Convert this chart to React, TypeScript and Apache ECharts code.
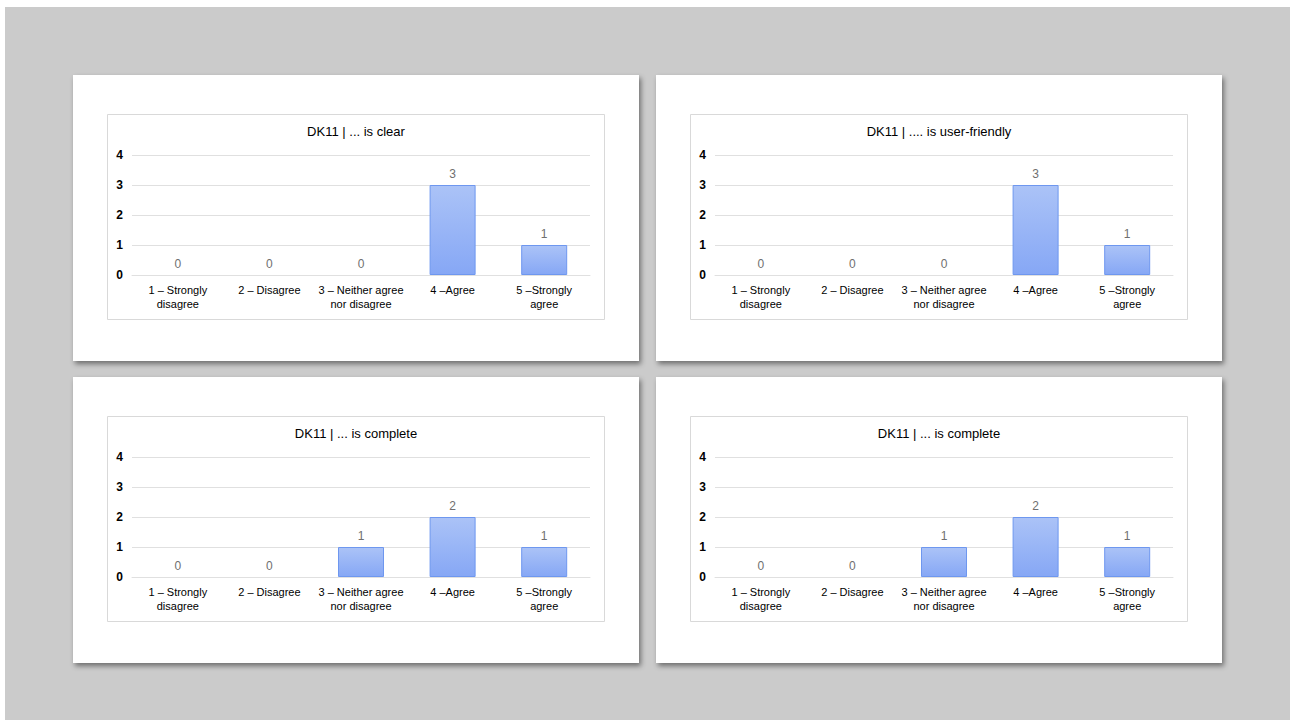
import React, { useEffect, useRef } from "react";
import * as echarts from "echarts";

// Likert scale answer categories shared by every panel
const categories = [
  "1 – Strongly\ndisagree",
  "2 – Disagree",
  "3 – Neither agree\nnor disagree",
  "4 –Agree",
  "5 –Strongly\nagree",
];

// Response counts per panel
const clearCounts = [0, 0, 0, 3, 1];
const userFriendlyCounts = [0, 0, 0, 3, 1];
const completeCounts = [0, 0, 1, 2, 1];
const completeCountsB = [0, 0, 1, 2, 1];

const panelTitles = [
  "DK11 | ... is clear",
  "DK11 | .... is user-friendly",
  "DK11 | ... is complete",
  "DK11 | ... is complete",
];

const yTicks = [0, 1, 2, 3, 4];

const FONT = "'Liberation Sans', Arial, Helvetica, sans-serif";

const CARD_W = 566;
const CARD_H = 286;

function Card({ title, values, left, top }: { title: string; values: number[]; left: number; top: number }) {
  const ref = useRef<HTMLDivElement>(null);

  useEffect(() => {
    if (!ref.current) return;
    const chart = echarts.init(ref.current, null, { renderer: "svg" });
    // zero-count bars get no outline so nothing shows on the baseline
    const barData = values.map((v) => (v === 0 ? { value: v, itemStyle: { borderWidth: 0, opacity: 0 } } : v));
    chart.setOption({
      animation: false,
      backgroundColor: "#ffffff",
      textStyle: { fontFamily: FONT },
      graphic: [
        {
          type: "rect",
          shape: { x: 34.5, y: 39.5, width: 497, height: 205 },
          style: { fill: "none", stroke: "#d9d9d9", lineWidth: 1 },
          silent: true,
        },
      ],
      title: {
        text: title,
        left: "center",
        top: 45,
        textStyle: { fontFamily: FONT, fontSize: 13, fontWeight: "normal", color: "#000000" },
      },
      grid: { left: 59, top: 80, width: 458, height: 120, containLabel: false },
      xAxis: {
        type: "category",
        data: categories,
        axisLine: { show: true, lineStyle: { color: "#e0e0e0", width: 1 } },
        axisTick: { show: false },
        axisLabel: {
          interval: 0,
          margin: 8,
          fontFamily: FONT,
          fontSize: 11,
          lineHeight: 14,
          color: "#000000",
        },
      },
      yAxis: {
        type: "value",
        min: yTicks[0],
        max: yTicks[yTicks.length - 1],
        interval: 1,
        axisLine: { show: false },
        axisTick: { show: false },
        axisLabel: { margin: 9, fontFamily: FONT, fontSize: 12, fontWeight: "bold", color: "#000000" },
        splitLine: { lineStyle: { color: "#e0e0e0", width: 1 } },
      },
      series: [
        {
          type: "bar",
          data: barData,
          barWidth: 46,
          itemStyle: {
            color: new echarts.graphic.LinearGradient(0, 0, 0, 1, [
              { offset: 0, color: "#abc3f7" },
              { offset: 1, color: "#86a7f5" },
            ]),
            borderColor: "#6e97ef",
            borderWidth: 1,
          },
          label: {
            show: true,
            position: "top",
            distance: 5,
            fontFamily: FONT,
            fontSize: 12,
            color: "#6f6f6f",
            opacity: 1,
          },
        },
      ],
    });
    return () => chart.dispose();
  }, [title, values]);

  return (
    <div
      style={{
        position: "absolute",
        left,
        top,
        width: CARD_W,
        height: CARD_H,
        background: "#ffffff",
        boxShadow: "2px 3px 5px rgba(0,0,0,0.45)",
      }}
    >
      <div ref={ref} style={{ width: CARD_W, height: CARD_H }} />
    </div>
  );
}

export default function App() {
  return (
    <div style={{ position: "fixed", left: 0, top: 0, width: 1290, height: 720, background: "#ffffff" }}>
      <div style={{ position: "absolute", left: 5, top: 7, width: 1285, height: 713, background: "#cbcbcb" }} />
      <Card title={panelTitles[0]} values={clearCounts} left={73} top={75} />
      <Card title={panelTitles[1]} values={userFriendlyCounts} left={656} top={75} />
      <Card title={panelTitles[2]} values={completeCounts} left={73} top={377} />
      <Card title={panelTitles[3]} values={completeCountsB} left={656} top={377} />
    </div>
  );
}
